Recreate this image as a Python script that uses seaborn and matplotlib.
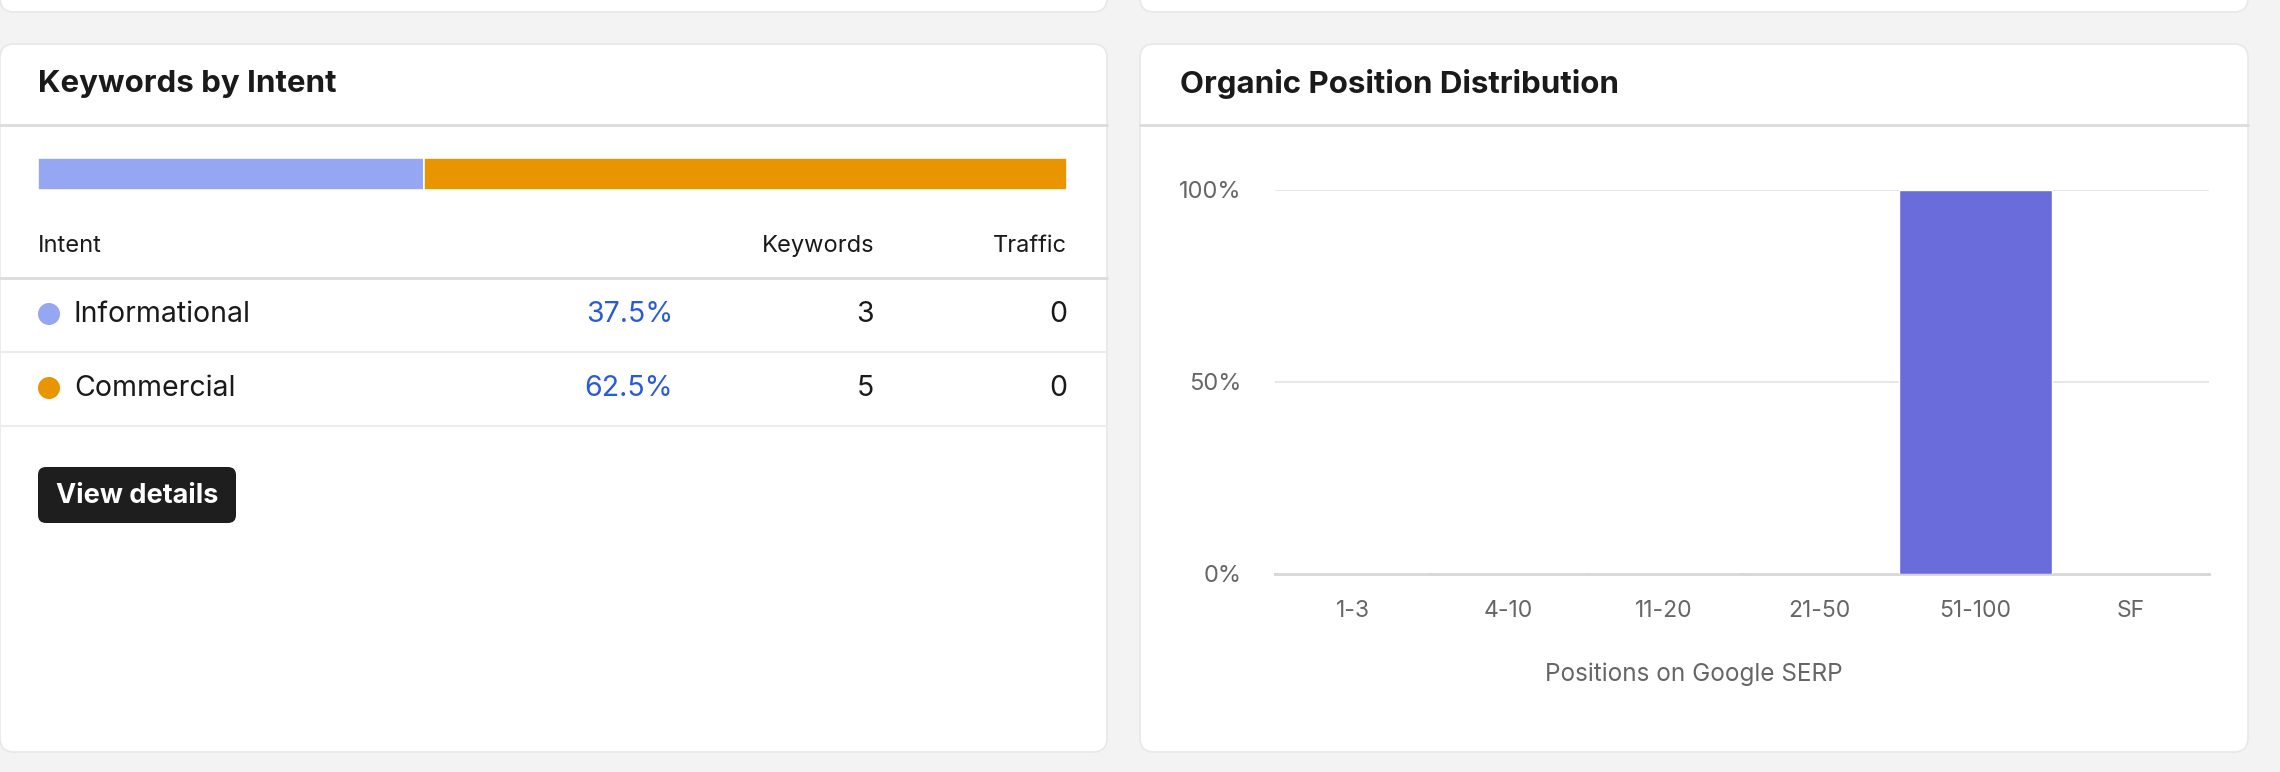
import numpy as np
import pandas as pd
import seaborn as sns
import matplotlib.pyplot as plt
from matplotlib.patches import FancyBboxPatch, Circle

# data
intents = ['Informational', 'Commercial']
intent_share = [37.5, 62.5]
intent_keywords = [3, 5]
intent_traffic = [0, 0]
intent_colors = ['#95a6f2', '#e99500']

positions = ['1-3', '4-10', '11-20', '21-50', '51-100', 'SF']
position_share = [0, 0, 0, 0, 100, 0]

sns.set_theme(style='white')
plt.rcParams['font.family'] = ['Inter', 'DejaVu Sans']

W, H = 2280, 772
fig = plt.figure(figsize=(W / 100, H / 100), dpi=100)
fig.patch.set_facecolor('#f3f3f3')

# canvas in pixel coords (y down)
bg = fig.add_axes([0, 0, 1, 1])
bg.set_xlim(0, W)
bg.set_ylim(H, 0)
bg.axis('off')


def card(x0, y0, x1, y1):
    bg.add_patch(FancyBboxPatch((x0, y0), x1 - x0, y1 - y0,
                                boxstyle='round,pad=0,rounding_size=14',
                                fc='white', ec='#e8e8e8', lw=1.2))


# top cards (cut off)
card(0, -40, 1107, 12)
card(1140, -40, 2248, 12)
# main cards
card(0, 44, 1107, 752)
card(1140, 44, 2248, 752)

# headers
bg.text(38, 84, 'Keywords by Intent', fontsize=22.5, fontweight='bold',
        color='#1a1a1a', va='center')
bg.text(1180, 84, 'Organic Position Distribution', fontsize=22.5,
        fontweight='bold', color='#1a1a1a', va='center')
bg.plot([0, 1107], [125, 125], color='#dcdcdc', lw=2)
bg.plot([1140, 2248], [125, 125], color='#dcdcdc', lw=2)

# stacked intent bar
sb = fig.add_axes([38 / W, 1 - 190 / H, (1067 - 38) / W, 32 / H])
left = np.concatenate([[0], np.cumsum(intent_share)[:-1]])
sb.barh([0] * len(intents), intent_share, left=left, color=intent_colors,
        height=1.0, edgecolor='white', linewidth=1.2)
sb.set_xlim(0, 100)
sb.set_ylim(-0.5, 0.5)
sb.axis('off')

# table
hy = 246
bg.text(38, hy, 'Intent', fontsize=17, color='#1a1a1a', va='center')
bg.text(874, hy, 'Keywords', fontsize=17, color='#1a1a1a', va='center', ha='right')
bg.text(1067, hy, 'Traffic', fontsize=17, color='#1a1a1a', va='center', ha='right')
bg.plot([0, 1107], [278, 278], color='#dcdcdc', lw=2)

row_y = [314, 388]
row_lines = [352, 426]
for name, sh, kw, tr, c, y, ly in zip(intents, intent_share, intent_keywords,
                                      intent_traffic, intent_colors, row_y, row_lines):
    bg.add_patch(Circle((49, y), 11, fc=c, ec='none'))
    bg.text(74, y, name, fontsize=20.5, color='#1a1a1a', va='center')
    bg.text(673, y, f'{sh}%', fontsize=20.5, color='#2a5bd7', va='center', ha='right')
    bg.text(874, y, str(kw), fontsize=20.5, color='#1a1a1a', va='center', ha='right')
    bg.text(1067, y, str(tr), fontsize=20.5, color='#1a1a1a', va='center', ha='right')
    bg.plot([0, 1107], [ly, ly], color='#ececec', lw=1.5)

# button
bg.add_patch(FancyBboxPatch((38, 467), 198, 56,
                            boxstyle='round,pad=0,rounding_size=8',
                            fc='#1e1e1e', ec='none'))
bg.text(137, 496, 'View details', fontsize=19.5, fontweight='bold',
        color='white', va='center', ha='center')

# position distribution chart
ax = fig.add_axes([1275 / W, 1 - 574 / H, (2209 - 1275) / W, (574 - 190) / H])
df = pd.DataFrame({'pos': positions, 'share': position_share})
sns.barplot(data=df, x='pos', y='share', color='#6a6cdc', saturation=1,
            width=0.98, ax=ax, zorder=3)
ax.set_ylim(0, 100)
ax.set_xlim(-0.5, len(positions) - 0.5)
ax.set_yticks([0, 50, 100])
ax.set_yticklabels(['0%', '50%', '100%'])
ax.yaxis.grid(True, color='#e8e8e8', lw=1.5)
ax.set_axisbelow(True)
for s in ['top', 'right', 'left']:
    ax.spines[s].set_visible(False)
ax.spines['bottom'].set_color('#d6d6d6')
ax.spines['bottom'].set_linewidth(2)
ax.tick_params(axis='both', length=0, labelcolor='#666666')
ax.tick_params(axis='y', pad=24, labelsize=17)
ax.tick_params(axis='x', pad=19, labelsize=16.5)
ax.set_xlabel('')
ax.set_ylabel('')
ax.patch.set_alpha(0)

bg.text(1694, 674, 'Positions on Google SERP', fontsize=17.5, color='#666666',
        va='center', ha='center')

fig.savefig('out.png', dpi=100, facecolor=fig.get_facecolor())
